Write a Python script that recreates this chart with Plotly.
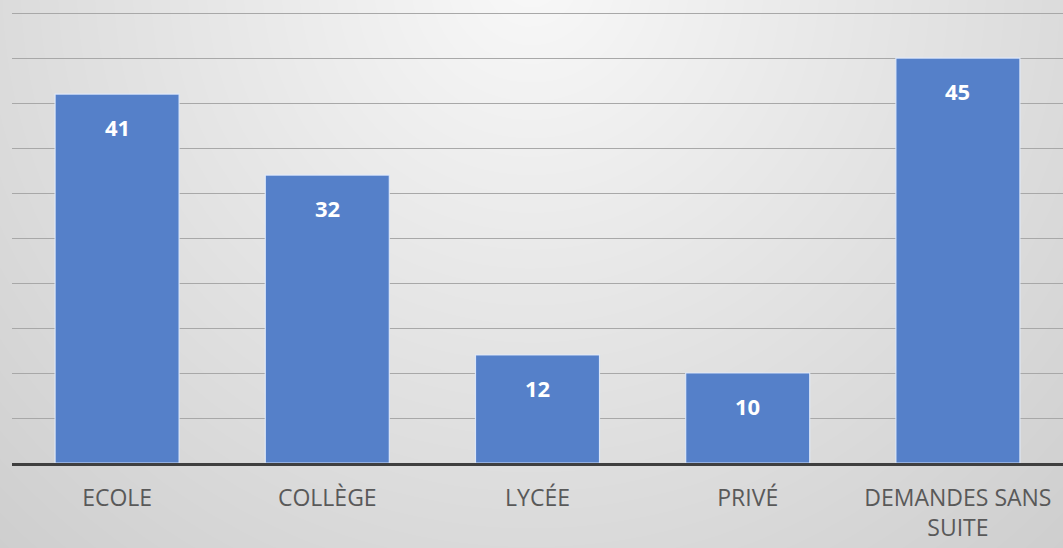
import numpy as np
import plotly.graph_objects as go

categories = ["ECOLE", "COLLÈGE", "LYCÉE", "PRIVÉ", "DEMANDES SANS<br>SUITE"]
values = [41, 32, 12, 10, 45]

W, H = 1063, 548

# background radial gradient (style only)
gx = np.linspace(0, W, 80)
gy = np.linspace(0, H, 45)
GX, GY = np.meshgrid(gx, gy)
D = np.sqrt((GX - 531) ** 2 + (GY + 20) ** 2)

fig = go.Figure()
fig.add_trace(go.Heatmap(
    x=gx, y=H - gy, z=D, zmin=0, zmax=780, zsmooth="best",
    colorscale=[[0, "rgb(248,248,248)"], [1, "rgb(206,206,206)"]],
    showscale=False, hoverinfo="skip", xaxis="x", yaxis="y",
))

fig.add_trace(go.Bar(
    x=categories, y=values, width=0.59,
    marker=dict(color="#5580c9", line=dict(color="rgba(225,235,252,0.9)", width=1.2)),
    xaxis="x2", yaxis="y2", hoverinfo="x+y",
))

for c, v in zip(categories, values):
    fig.add_annotation(
        x=c, y=v, xref="x2", yref="y2", text=f"<b>{v}</b>", showarrow=False,
        yshift=-33, yanchor="middle",
        font=dict(family="Open Sans", size=22, color="white"),
    )

fig.update_layout(
    width=W, height=H,
    margin=dict(l=0, r=0, t=0, b=0),
    paper_bgcolor="#dedede", plot_bgcolor="rgba(0,0,0,0)",
    showlegend=False,
    xaxis=dict(domain=[0, 1], range=[0, W], visible=False, fixedrange=True),
    yaxis=dict(domain=[0, 1], range=[0, H], visible=False, fixedrange=True),
    xaxis2=dict(
        domain=[12 / W, 1], anchor="y2", range=[-0.5, 4.5],
        showline=True, linecolor="#3f3f3f", linewidth=3,
        showgrid=False, ticks="", ticklabelstandoff=12,
        tickfont=dict(family="Open Sans", size=23, color="#595959"),
    ),
    yaxis2=dict(
        domain=[85 / H, 1], anchor="x2", range=[0, 51.45],
        dtick=5, showgrid=True, gridcolor="#a8a8a8", gridwidth=1.4,
        showticklabels=False, zeroline=False, ticks="",
    ),
)

fig.write_html(
    "out.html",
    config={"displayModeBar": False},
    post_script="document.body.style.margin='0';document.body.style.overflow='hidden';document.body.style.background='#dedede';",
)
